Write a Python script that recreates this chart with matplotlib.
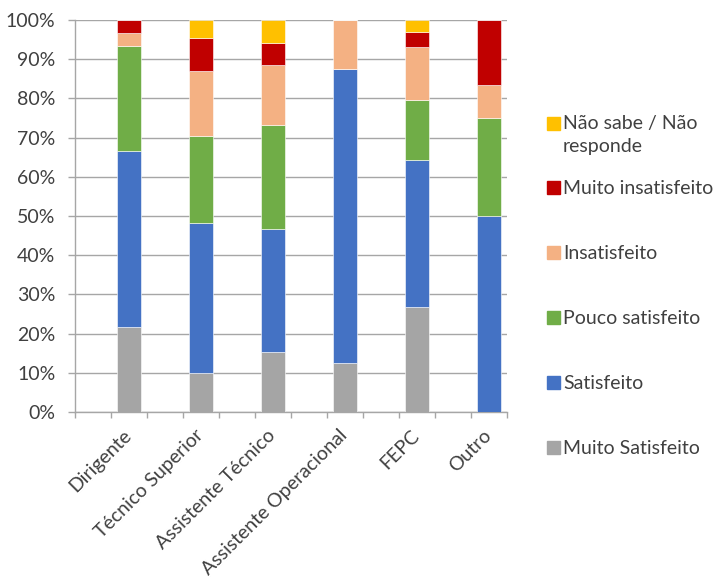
import matplotlib
matplotlib.use('Agg')
import matplotlib.pyplot as plt
from matplotlib.patches import Rectangle
import numpy as np

plt.rcParams['font.family'] = ['Lato', 'DejaVu Sans']

categories = ['Dirigente', 'Técnico Superior', 'Assistente Técnico',
              'Assistente Operacional', 'FEPC', 'Outro']
series_names = ['Muito Satisfeito', 'Satisfeito', 'Pouco satisfeito',
                'Insatisfeito', 'Muito insatisfeito', 'Não sabe / Não\nresponde']

# percentages per category
muito_satisfeito = [21.7, 9.9, 15.3, 12.5, 26.8, 0.0]
satisfeito = [45.0, 38.2, 31.4, 75.0, 37.6, 50.0]
pouco_satisfeito = [26.7, 22.4, 26.4, 0.0, 15.3, 25.0]
insatisfeito = [3.3, 16.5, 15.3, 12.5, 13.5, 8.3]
muito_insatisfeito = [3.3, 8.4, 5.8, 0.0, 3.7, 16.7]
nao_sabe = [0.0, 4.6, 5.8, 0.0, 3.1, 0.0]

colors = ['#A5A5A5', '#4472C4', '#70AD47', '#F4B183', '#C00000', '#FFC000']
text_col = '#404040'
grid_col = '#A6A6A6'

W, H = 713, 581
fig = plt.figure(figsize=(W / 100, H / 100), dpi=100)
ax = fig.add_axes([0.1048, 0.2909, 0.606, 0.6747])

# bars sit on every second slot, like the original sheet
x = np.arange(len(categories)) * 2 + 1
bottom = np.zeros(len(categories))
all_series = [muito_satisfeito, satisfeito, pouco_satisfeito,
              insatisfeito, muito_insatisfeito, nao_sabe]
for vals, name, c in zip(all_series, series_names, colors):
    ax.bar(x, vals, width=0.667, bottom=bottom, color=c, label=name,
           edgecolor='white', linewidth=0.4, zorder=3)
    bottom += np.array(vals)

ax.set_xlim(-0.5, 11.5)
ax.set_ylim(0, 100)
ax.set_yticks(np.arange(0, 101, 10))
ax.set_yticklabels(['%d%%' % v for v in range(0, 101, 10)])
ax.yaxis.grid(True, color=grid_col, linewidth=1.0, zorder=0)
ax.set_axisbelow(True)

ax.set_xticks(np.arange(-0.5, 12, 1.0))
ax.set_xticklabels([])
ax.set_xticks(x, minor=True)
ax.set_xticklabels(categories, minor=True, rotation=45, ha='right',
                   va='center', rotation_mode='anchor')
ax.tick_params(axis='x', which='minor', length=0, pad=15,
               labelsize=14, labelcolor=text_col)
ax.tick_params(axis='x', which='major', length=4.5, width=1, color=grid_col)
ax.tick_params(axis='y', length=5, width=1, color=grid_col,
               labelsize=14, labelcolor=text_col, pad=9)

for s in ['top', 'right']:
    ax.spines[s].set_visible(False)
for s in ['left', 'bottom']:
    ax.spines[s].set_color(grid_col)
    ax.spines[s].set_linewidth(1.0)

# legend drawn by hand: first text line of each entry evenly spaced
leg_x = 547
leg_y0 = 123
leg_step = 64.8
box = 13
for i, (name, c) in enumerate(zip(series_names[::-1], colors[::-1])):
    yc = leg_y0 + leg_step * i
    fig.patches.append(Rectangle((leg_x / W, 1 - (yc + box / 2) / H),
                                 box / W, box / H, color=c,
                                 transform=fig.transFigure))
    fig.text((leg_x + box + 3) / W, 1 - (yc - 7.5) / H, name, fontsize=14,
             color=text_col, va='top', ha='left', linespacing=1.4)

fig.savefig('out.png', dpi=100)
